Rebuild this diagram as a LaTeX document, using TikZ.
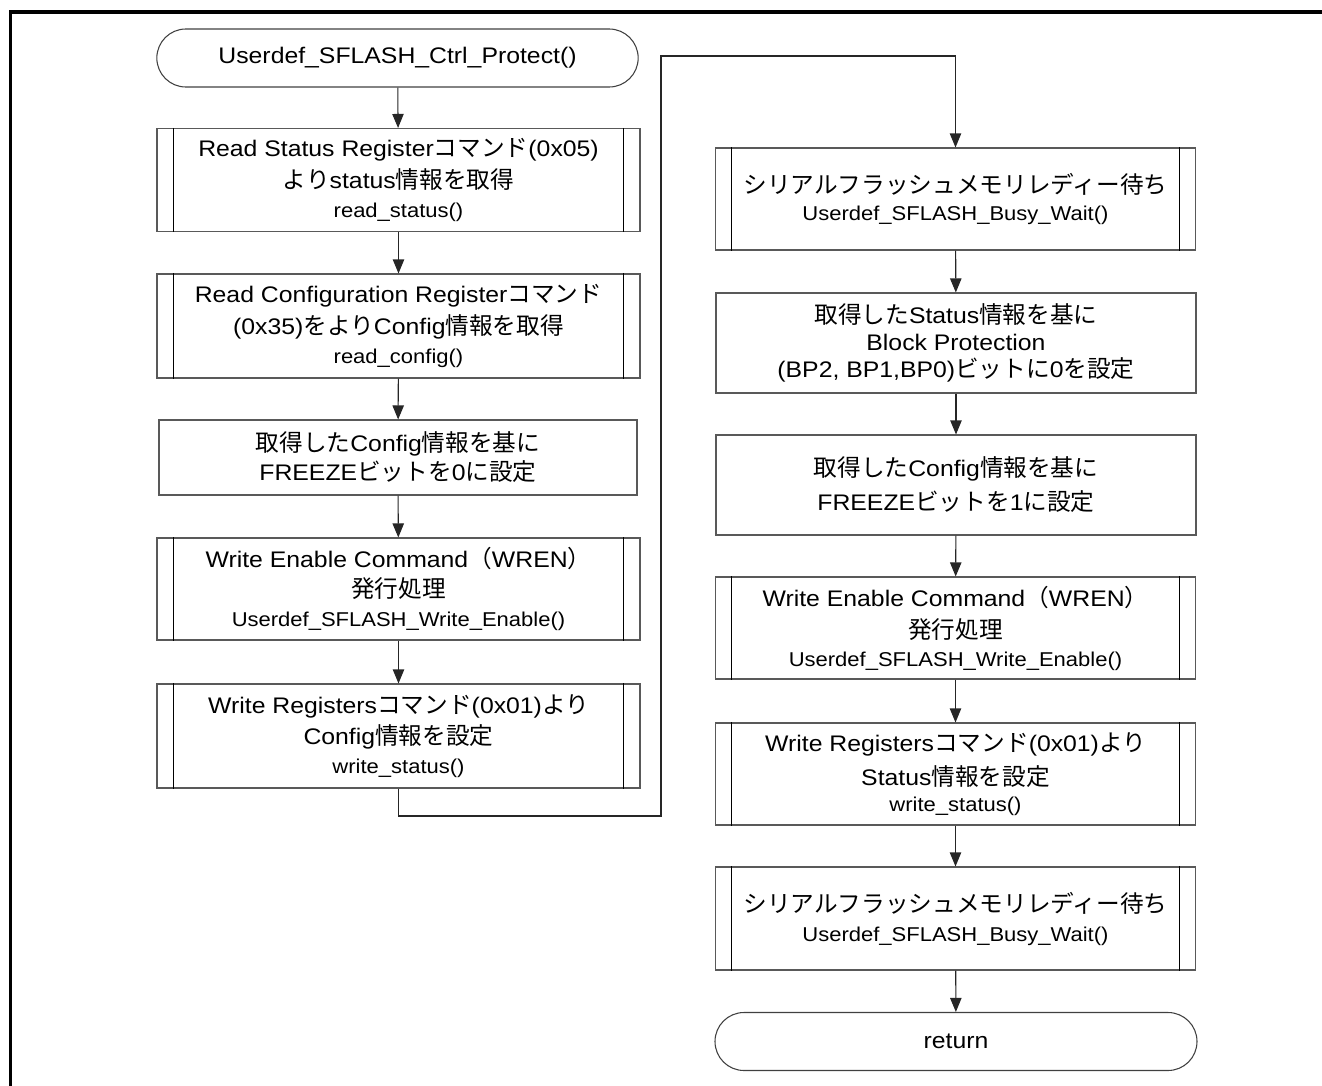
\documentclass[tikz,border=0pt]{standalone}
\usepackage{fontspec}
\setmainfont{Liberation Sans}[FakeStretch=1.1]
\newfontfamily\jp{Noto Sans CJK JP}[Scale=1.05]
\usetikzlibrary{arrows.meta,shapes.misc}
% smaller type for the called function names
\newcommand\fn[1]{{\fontsize{15pt}{18pt}\selectfont #1}}

\begin{document}
\begin{tikzpicture}[x=0.75pt,y=-0.75pt,
  txt/.style={font=\fontsize{16.9pt}{24pt}\selectfont, align=center, text=black, inner sep=0pt},
  box/.style={txt, rectangle, draw=black!65, line width=0.8pt, minimum height={#1*0.75pt}},
  lbox/.style={box=#1, minimum width=362.25pt},
  rbox/.style={box=#1, minimum width=360pt},
  term/.style={txt, rounded rectangle, draw=black!75, line width=0.8pt,
               minimum height=43.5pt, minimum width=361pt},
  bar/.style={draw=black, line width=0.7pt},
  conn/.style={draw=black!85, line width=0.8pt},
  arr/.style={conn, -{Triangle[length=10.5pt,width=8.5pt]}},
  frame/.style={draw=black, line width=2.4pt, line join=miter}
]
\useasboundingbox (0,0) rectangle (1322,1086);

% page frame (top and left rules)
\draw[frame] (10.5,1090) -- (10.5,12) -- (1326,12);

% ---------------- left column ----------------
\node[term] (start) at (397.5,58) {Userdef\_SFLASH\_Ctrl\_Protect()};

\node[lbox=103] (L1) at (398.5,180)
  {Read Status Register{\jp コマンド}(0x05)\\
   {\jp より}status{\jp 情報を取得}\\[-2.25pt]
   \fn{read\_status()}};

\node[lbox=104] (L2) at (398.5,326)
  {Read Configuration Register{\jp コマンド}\\
   (0x35){\jp をより}Config{\jp 情報を取得}\\[-2.25pt]
   \fn{read\_config()}};

\node[box=75, minimum width=358.5pt] (L3) at (398,457.5)
  {{\jp 取得した}Config{\jp 情報を基に}\\[-2.25pt]
   FREEZE{\jp ビットを}0{\jp に設定}};

\node[lbox=102] (L4) at (398.5,589)
  {Write Enable Command{\jp （}WREN{\jp ）}\\[-1.5pt]
   {\jp 発行処理}\\[-2.25pt]
   \fn{Userdef\_SFLASH\_Write\_Enable()}};

\node[lbox=104] (L5) at (398.5,736)
  {Write Registers{\jp コマンド}(0x01){\jp より}\\[-1pt]
   Config{\jp 情報を設定}\\[-2.25pt]
   \fn{write\_status()}};

% ---------------- right column ----------------
\node[rbox=102] (R1) at (955.5,199)
  {{\jp シリアルフラッシュメモリレディー待ち}\\[-3.75pt]
   \fn{Userdef\_SFLASH\_Busy\_Wait()}};

\node[rbox=100] (R2) at (956,343)
  {{\jp 取得した}Status{\jp 情報を基に}\\[-4pt]
   Block Protection\\[-4pt]
   (BP2, BP1,BP0){\jp ビットに}0{\jp を設定}};

\node[rbox=100] (R3) at (956,485)
  {{\jp 取得した}Config{\jp 情報を基に}\\[1.5pt]
   FREEZE{\jp ビットを}1{\jp に設定}};

\node[rbox=102] (R4) at (955.5,628)
  {Write Enable Command{\jp （}WREN{\jp ）}\\
   {\jp 発行処理}\\[-3pt]
   \fn{Userdef\_SFLASH\_Write\_Enable()}};

\node[rbox=102] (R5) at (955.5,774)
  {Write Registers{\jp コマンド}(0x01){\jp より}\\[1.5pt]
   Status{\jp 情報を設定}\\[-4.5pt]
   \fn{write\_status()}};

\node[rbox=103] (R6) at (955.5,918.5)
  {{\jp シリアルフラッシュメモリレディー待ち}\\[-2.25pt]
   \fn{Userdef\_SFLASH\_Busy\_Wait()}};

\node[term, minimum width=361.5pt] (stop) at (956,1041.5) {return};

% side bars of the predefined-process boxes
\foreach \n in {L1,L2,L4,L5,R1,R4,R5,R6}{
  \draw[bar] ([xshift=12.5pt]\n.north west) -- ([xshift=12.5pt]\n.south west);
  \draw[bar] ([xshift=-12.5pt]\n.north east) -- ([xshift=-12.5pt]\n.south east);
}

% ---------------- connectors ----------------
\draw[arr] (start) -- (L1);
\draw[arr] (L1) -- (L2);
\draw[arr] (L2) -- (L3);
\draw[arr] (L3) -- (L4);
\draw[arr] (L4) -- (L5);

\coordinate (c1) at (661,816);
\coordinate (c2) at (661,56);
\draw[arr] (L5.south) |- (c1) |- (c2) -| (R1.north);

\draw[arr] (R1) -- (R2);
\draw[arr] (R2) -- (R3);
\draw[arr] (R3) -- (R4);
\draw[arr] (R4) -- (R5);
\draw[arr] (R5) -- (R6);
\draw[arr] (R6) -- (stop);
\end{tikzpicture}
\end{document}
